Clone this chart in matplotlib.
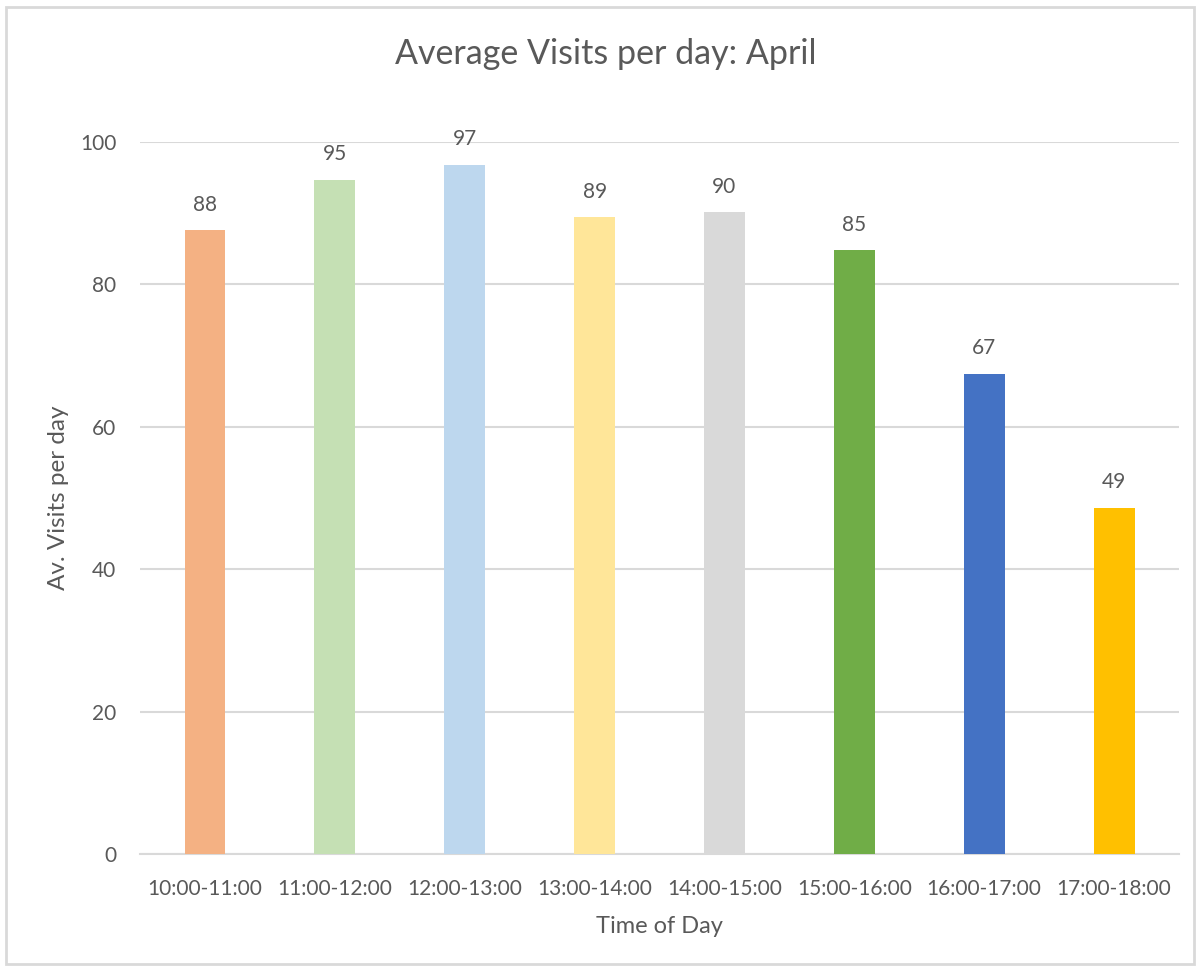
import matplotlib.pyplot as plt
from matplotlib.patches import Rectangle

# ================== DATA ==================

slots = ["10:00-11:00", "11:00-12:00", "12:00-13:00", "13:00-14:00",
         "14:00-15:00", "15:00-16:00", "16:00-17:00", "17:00-18:00"]
visits = [87.6, 94.7, 96.8, 89.4, 90.1, 84.8, 67.4, 48.6]
bar_colors = ["#F4B183", "#C5E0B4", "#BDD7EE", "#FFE699",
              "#D9D9D9", "#70AD47", "#4472C4", "#FFC000"]
y_ticks = [0, 20, 40, 60, 80, 100]

TEXT = "#595959"
GRID = "#D9D9D9"

plt.rcParams['font.family'] = ['Lato', 'DejaVu Sans']

# ================== PLOT ==================

fig = plt.figure(figsize=(12, 9.69), dpi=100)
ax = fig.add_axes([0.1167, 0.1187, 0.8658, 0.7348])

x = range(len(slots))
bars = ax.bar(x, visits, width=0.315, color=bar_colors, zorder=3)

for b, v in zip(bars, visits):
    ax.text(b.get_x() + b.get_width() / 2, v + 2.2, f"{v:.0f}",
            ha="center", va="bottom", fontsize=15, color=TEXT)

ax.set_xlim(-0.5, len(slots) - 0.5)
ax.set_ylim(0, 100)
ax.set_yticks(y_ticks)
ax.set_xticks(list(x))
ax.set_xticklabels(slots)
ax.yaxis.grid(True, color=GRID, linewidth=1.5, zorder=0)
ax.tick_params(axis="both", length=0, labelsize=15, labelcolor=TEXT)
ax.tick_params(axis="x", pad=18)
ax.tick_params(axis="y", pad=17)

for side in ["top", "right", "left"]:
    ax.spines[side].set_visible(False)
ax.spines["bottom"].set_color(GRID)
ax.spines["bottom"].set_linewidth(1.5)

ax.set_xlabel("Time of Day", fontsize=17, color=TEXT, labelpad=12)
ax.set_ylabel("Av. Visits per day", fontsize=17.5, color=TEXT, labelpad=8)
fig.text(0.505, 0.944, "Average Visits per day: April", ha="center", va="center",
         fontsize=24.5, color=TEXT)

# light frame around the whole chart, like the spreadsheet chart area
fig.patches.append(Rectangle((6 / 1200, 5 / 969), 1188 / 1200, 957 / 969,
                             transform=fig.transFigure, fill=False,
                             edgecolor=GRID, linewidth=2))

fig.savefig("out.png", dpi=100)
